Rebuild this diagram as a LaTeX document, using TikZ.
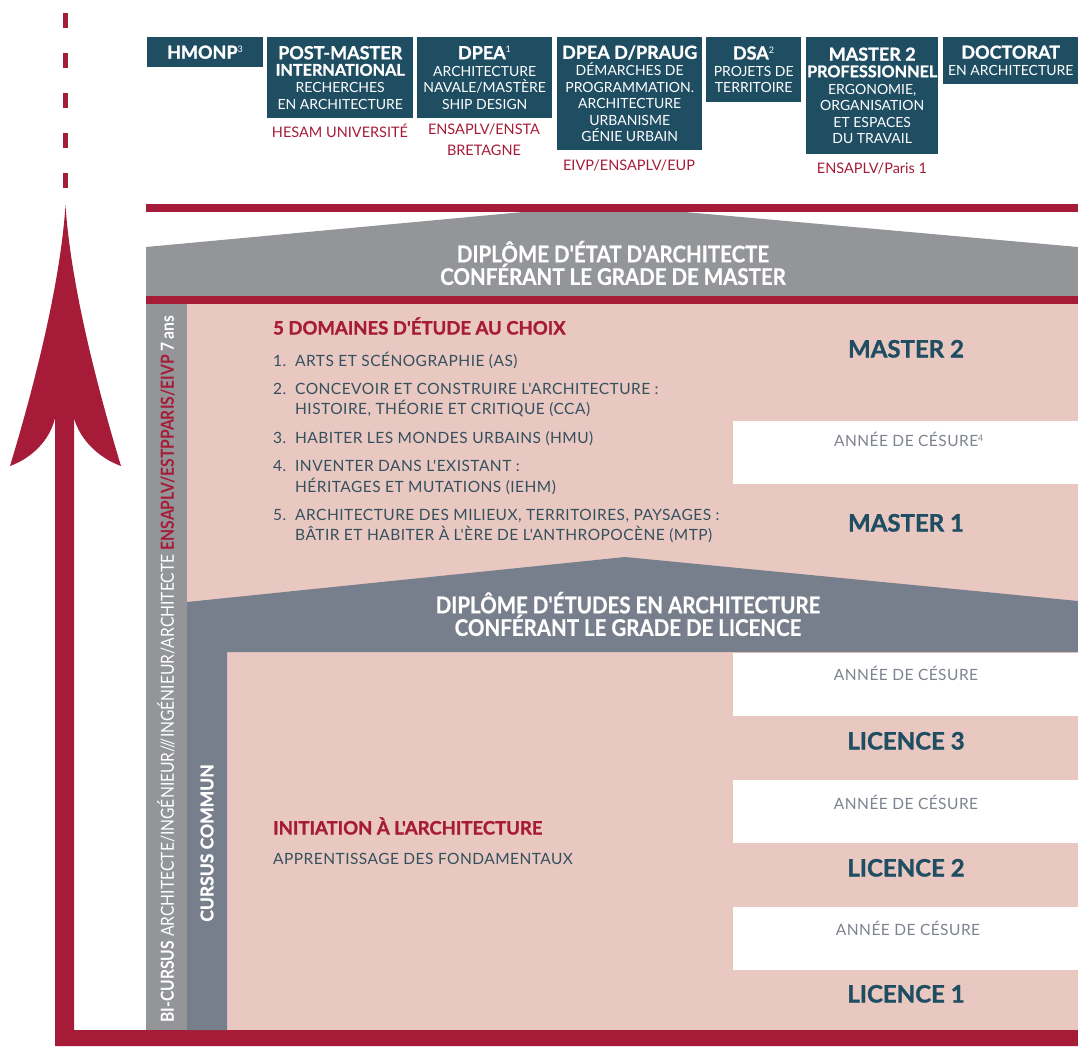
\documentclass[tikz,border=0pt]{standalone}
\usepackage{fontspec}
\setmainfont{Lato}
\newfontfamily\heavyfont[BoldFeatures={FakeBold=1.2}]{Lato}
\newfontfamily\roofont[FakeStretch=0.89, BoldFeatures={FakeBold=0.6}]{Lato}
\newfontfamily\narrowfont[FakeStretch=0.87]{Lato}
\newfontfamily\spacedfont[LetterSpace=3]{Lato}

\definecolor{petrol}{HTML}{1F4E63}
\definecolor{crimson}{HTML}{A61B37}
\definecolor{stone}{HTML}{939598}
\definecolor{slate}{HTML}{777E8C}
\definecolor{blush}{HTML}{E8C8C0}
\definecolor{inkblue}{HTML}{34505F}
\definecolor{ashgrey}{HTML}{7E838E}

\newcommand{\hd}{\heavyfont\fontsize{18}{19.5}\selectfont\bfseries}
\newcommand{\hdsmall}{\heavyfont\fontsize{16.2}{19.5}\selectfont\bfseries}

\begin{document}
\begin{tikzpicture}[
	x=1pt, y=-1pt,
	line cap=round,
	line join=round,
	every node/.style={inner sep=0pt},
	topbox/.style={fill=petrol, text=white, align=center, anchor=north west,
		font=\fontsize{14}{16.5}\selectfont},
	school/.style={text=crimson, align=center, font=\fontsize{14.5}{21}\selectfont},
	cesure/.style={fill=white, minimum width=345, minimum height=63, anchor=north west},
	cesuretext/.style={text=ashgrey, text height=11, text depth=0,
		font=\spacedfont\fontsize{15.5}{17}\selectfont},
	level/.style={text=petrol, text height=17, text depth=0,
		font=\heavyfont\fontsize{24}{26}\selectfont\bfseries},
	roof/.style={text=white, align=center, font=\roofont\fontsize{23}{21.5}\selectfont\bfseries},
	item/.style={text=inkblue, anchor=west, text height=11, text depth=0,
		font=\spacedfont\fontsize{15.5}{18}\selectfont},
	domhead/.style={text=crimson, anchor=west, text height=13, text depth=0,
		font=\heavyfont\fontsize{18.5}{20}\selectfont\bfseries}
	]
	
	\useasboundingbox (0,0) rectangle (1078,1047);
	
	% dashed line and arrow
	\draw[crimson, line width=5, line cap=butt, dash pattern=on 15 off 25] (65.5,13) -- (65.5,190);
	\fill[crimson] (65.5,205) .. controls (60,290) and (30,400) .. (10,466)
		.. controls (32,458) and (50,440) .. (55,418) -- (55,1046) -- (1078,1046)
		-- (1078,1030) -- (74,1030) -- (74,418)
		.. controls (80,440) and (99,458) .. (121,466)
		.. controls (101,400) and (71,290) .. (65.5,205) -- cycle;
	
	% top boxes
	\node[topbox, minimum width=116, minimum height=30] (hmonp) at (147,37)
		{\hd HMONP\textsuperscript{\normalfont\small 3}};
	\node[topbox, minimum width=146, minimum height=81] (postmaster) at (267,37)
		{{\hd POST-MASTER}\\{\hdsmall INTERNATIONAL}\\[0.5pt]RECHERCHES\\EN ARCHITECTURE};
	\node[topbox, minimum width=135, minimum height=81] (dpea) at (417,37)
		{{\hd DPEA\textsuperscript{\normalfont\small 1}}\\[0.5pt]ARCHITECTURE\\NAVALE/MASTÈRE\\SHIP DESIGN};
	\node[topbox, minimum width=145, minimum height=113] (dpead) at (557,37)
		{{\hd DPEA D/PRAUG}\\[0.5pt]DÉMARCHES DE\\PROGRAMMATION.\\ARCHITECTURE\\URBANISME\\GÉNIE URBAIN};
	\node[topbox, minimum width=95, minimum height=65] (dsa) at (706,37)
		{{\hd DSA\textsuperscript{\normalfont\small 2}}\\[0.5pt]PROJETS DE\\TERRITOIRE};
	\node[topbox, minimum width=132, minimum height=117] (masterpro) at (806,37)
		{{\hd MASTER 2}\\{\hdsmall PROFESSIONNEL}\\[0.5pt]ERGONOMIE,\\ORGANISATION\\ET ESPACES\\DU TRAVAIL};
	\node[topbox, minimum width=135, minimum height=47] (doctorat) at (943,37)
		{{\hd DOCTORAT}\\[0.5pt]EN ARCHITECTURE};
	
	\node[school] (hesam) at (340,131) {HESAM UNIVERSITÉ};
	\node[school, anchor=north] (ensta) at (484,124) {ENSAPLV/ENSTA\\BRETAGNE};
	\node[school] (eivp) at (629,165) {EIVP/ENSAPLV/EUP};
	\node[school] (paris) at (872,168) {ENSAPLV/Paris 1};
	
	% master roof
	\fill[crimson] (146,204) rectangle (1078,212);
	\fill[stone] (146,247) -- (523,212) -- (685,212) -- (1078,247) -- (1078,296) -- (146,296) -- cycle;
	\node[roof] (dea) at (613,263) {DIPLÔME D'ÉTAT D'ARCHITECTE\\CONFÉRANT LE GRADE DE MASTER};
	\fill[crimson] (146,296) rectangle (1078,304);
	
	% cycles
	\fill[stone] (146,304) rectangle (187,1030);
	\fill[blush] (187,304) rectangle (1078,652);
	\fill[blush] (227,652) rectangle (1078,1030);
	\fill[slate] (187,602) -- (625,557) -- (1078,601) -- (1078,652) -- (227,652) -- (227,1030) -- (187,1030) -- cycle;
	\node[roof] (dee) at (628,614) {DIPLÔME D'ÉTUDES EN ARCHITECTURE\\CONFÉRANT LE GRADE DE LICENCE};
	
	\node[rotate=90, text=white, font=\narrowfont\fontsize{18}{18}\selectfont] (bicursus) at (166,669)
		{\textbf{BI-CURSUS} ARCHITECTE/INGÉNIEUR///INGÉNIEUR/ARCHITECTE \textcolor{crimson}{\textbf{ENSAPLV/ESTPPARIS/EIVP}} \textbf{7\,ans}};
	\node[rotate=90, text=white, font=\heavyfont\fontsize{17.5}{18}\selectfont\bfseries] (commun) at (207,843) {CURSUS COMMUN};
	
	% annees de cesure
	\foreach \y/\n in {421/a, 653/b, 780/c, 907/d}
		\node[cesure] (cesure\n) at (733,\y) {};
	\node[cesuretext] (cesuretxta) at (909,441) {ANNÉE DE CÉSURE\textsuperscript{\small 4}};
	\node[cesuretext] (cesuretxtb) at (906,675) {ANNÉE DE CÉSURE};
	\node[cesuretext] (cesuretxtc) at (906,804) {ANNÉE DE CÉSURE};
	\node[cesuretext] (cesuretxtd) at (908,930) {ANNÉE DE CÉSURE};
	
	\node[level] (master2) at (906,349) {MASTER 2};
	\node[level] (master1) at (906,523) {MASTER 1};
	\node[level] (licence3) at (906,741) {LICENCE 3};
	\node[level] (licence2) at (906,868) {LICENCE 2};
	\node[level] (licence1) at (906,994) {LICENCE 1};
	
	% domaines
	\node[domhead] (domaines) at (273,328) {5 DOMAINES D'ÉTUDE AU CHOIX};
	\foreach \y/\n/\t in {
		361/1./{ARTS ET SCÉNOGRAPHIE (AS)},
		389/2./{CONCEVOIR ET CONSTRUIRE L'ARCHITECTURE :},
		409//{HISTOIRE, THÉORIE ET CRITIQUE (CCA)},
		438/3./{HABITER LES MONDES URBAINS (HMU)},
		466/4./{INVENTER DANS L'EXISTANT :},
		487//{HÉRITAGES ET MUTATIONS (IEHM)},
		515/5./{ARCHITECTURE DES MILIEUX, TERRITOIRES, PAYSAGES :},
		535//{BÂTIR ET HABITER À L'ÈRE DE L'ANTHROPOCÈNE (MTP)}
	}{
		\node[item] (num\y) at (273,\y) {\n};
		\node[item] (dom\y) at (295,\y) {\t};
	}
	
	\node[domhead] (initiation) at (273,828) {INITIATION À L'ARCHITECTURE};
	\node[item] (fondamentaux) at (273,859) {APPRENTISSAGE DES FONDAMENTAUX};
	
\end{tikzpicture}
\end{document}
